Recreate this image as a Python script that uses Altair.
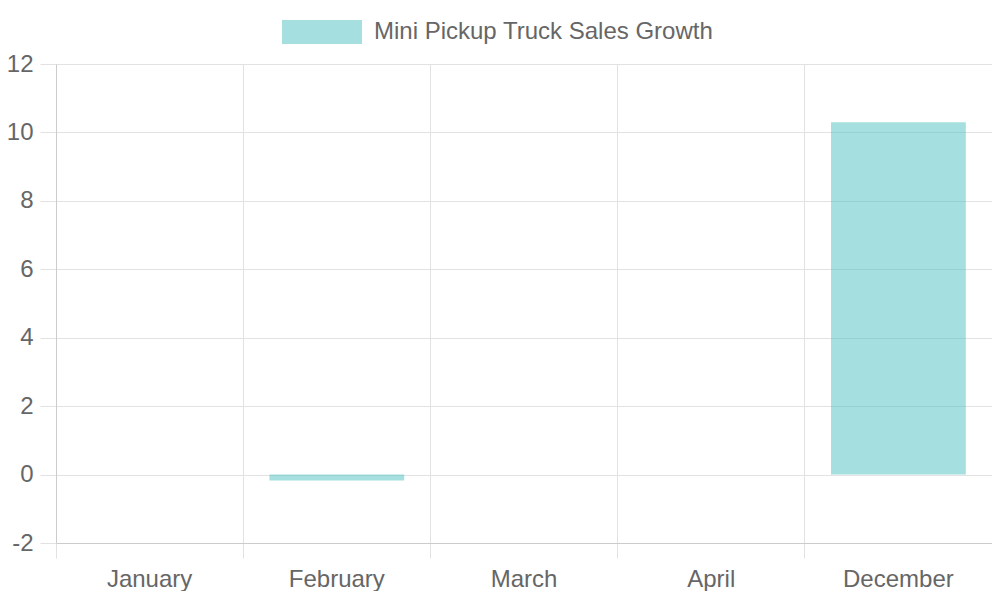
import altair as alt
import pandas as pd

months = ["January", "February", "March", "April", "December"]
growth = [0, -0.17, 0, 0, 10.3]
series = ["Mini Pickup Truck Sales Growth"] * len(months)
y_ticks = [-2, 0, 2, 4, 6, 8, 10, 12]

df = pd.DataFrame({"month": months, "growth": growth, "series": series})

FONT = "Liberation Sans"
GRID = "#e2e2e2"
DOMAIN = "#cccccc"
TEXT = "#666666"

chart = (
    alt.Chart(df)
    .mark_bar(opacity=0.5, width=alt.RelativeBandSize(0.72))
    .encode(
        x=alt.X(
            "month:N",
            sort=months,
            scale=alt.Scale(paddingInner=0, paddingOuter=0),
            axis=alt.Axis(
                title=None,
                labelAngle=0,
                bandPosition=0,
                grid=True,
                gridColor=GRID,
                ticks=True,
                tickSize=15,
                tickColor=GRID,
                domainColor=DOMAIN,
                labelFontSize=24,
                labelColor=TEXT,
                labelFont=FONT,
                labelPadding=9,
            ),
        ),
        y=alt.Y(
            "growth:Q",
            scale=alt.Scale(domain=[-2, 12], nice=False),
            axis=alt.Axis(
                title=None,
                values=y_ticks,
                labelExpr="datum.value + ''",
                grid=True,
                gridColor=GRID,
                tickSize=16,
                tickColor=GRID,
                domainColor=DOMAIN,
                labelFontSize=24,
                labelColor=TEXT,
                labelFont=FONT,
                labelPadding=7,
            ),
        ),
        color=alt.Color(
            "series:N",
            scale=alt.Scale(domain=series[:1], range=["#4bc0c0"]),
            legend=alt.Legend(
                title=None,
                orient="none",
                legendX=226,
                legendY=-72,
                padding=0,
                symbolType="M-1,-0.3H1V0.3H-1Z",
                symbolSize=6400,
                symbolOpacity=0.5,
                symbolStrokeWidth=0,
                labelFontSize=24,
                labelColor=TEXT,
                labelFont=FONT,
                labelOffset=12,
                labelLimit=0,
            ),
        ),
    )
    .properties(
        width=936,
        height=479,
        autosize=alt.AutoSizeParams(type="none"),
        padding={"left": 48, "top": 56, "right": 0, "bottom": 48},
    )
    .configure_view(stroke=GRID)
    .configure(font=FONT)
)

chart.save("out.html", embed_options={"renderer": "svg", "actions": False})
